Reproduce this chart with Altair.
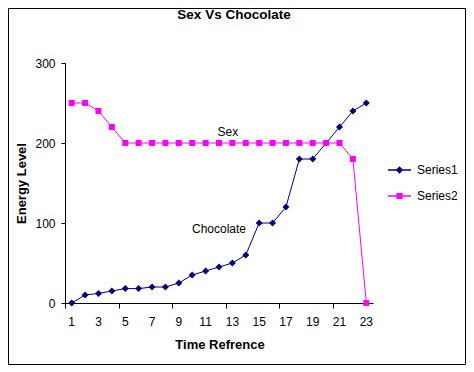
import altair as alt
import pandas as pd

# ---- data ----
time_ref = list(range(1, 24))
series1 = [0, 10, 12, 15, 18, 18, 20, 20, 25, 35, 40, 45, 50, 60, 100, 100, 120, 180, 180, 200, 220, 240, 250]
series2 = [250, 250, 240, 220, 200, 200, 200, 200, 200, 200, 200, 200, 200, 200, 200, 200, 200, 200, 200, 200, 200, 180, 0]
series_names = ["Series1", "Series2"]
series_colors = ["#000080", "#FF00FF"]
y_ticks = [0, 50, 100, 150, 200, 250, 300]
x_tick_bounds = [i + 0.5 for i in range(0, 24)]
x_labels = [1, 3, 5, 7, 9, 11, 13, 15, 17, 19, 21, 23]
annot_text = ["Sex", "Chocolate"]
annot_x = [12.66, 12.0]
annot_y = [214, 92]
chart_title = "Sex Vs Chocolate"

FONT = "Liberation Sans"

df = pd.DataFrame({
    "t": time_ref * 2,
    "v": series1 + series2,
    "s": ["Series1"] * len(time_ref) + ["Series2"] * len(time_ref),
})
ann = pd.DataFrame({"label": annot_text, "x": annot_x, "y": annot_y})
xl = pd.DataFrame({"t": x_labels})
one = pd.DataFrame({"a": [0]})

x_enc = alt.X(
    "t:Q",
    scale=alt.Scale(domain=[0.5, 23.5], nice=False, zero=False),
    axis=alt.Axis(
        values=x_tick_bounds,
        labels=False,
        tickSize=5,
        grid=False,
        title="Time Refrence",
        titleX=154.5,
        titleY=41,
        titleBaseline="middle",
    ),
)
y_enc = alt.Y(
    "v:Q",
    scale=alt.Scale(domain=[0, 300], nice=False),
    axis=alt.Axis(
        values=y_ticks,
        tickSize=4,
        labelPadding=6,
        grid=False,
        title="Energy Level",
        titleX=-44,
        titleY=120,
        titleBaseline="middle",
    ),
)

line1 = alt.Chart(df).transform_filter("datum.s == 'Series1'").mark_line(
    strokeWidth=1, color=series_colors[0]
).encode(x=x_enc, y=y_enc)
line2 = alt.Chart(df).transform_filter("datum.s == 'Series2'").mark_line(
    strokeWidth=1, color=series_colors[1]
).encode(x="t:Q", y="v:Q")

pts1 = alt.Chart(df).transform_filter("datum.s == 'Series1'").mark_point(
    filled=True, opacity=1, shape="diamond", size=49, color=series_colors[0]
).encode(x="t:Q", y="v:Q")

pts2 = alt.Chart(df).transform_filter("datum.s == 'Series2'").mark_point(
    filled=True, opacity=1, shape="square", size=36, color=series_colors[1]
).encode(x="t:Q", y="v:Q")

xlabels = alt.Chart(xl).mark_text(
    font=FONT, fontSize=12, color="black", baseline="middle", align="center"
).encode(x="t:Q", y=alt.value(259), text="t:Q")

leg_paths = [
    "M-1,-0.065H1V0.065H-1Z M0,-0.32L0.32,0L0,0.32L-0.32,0Z",
    "M-1,-0.065H1V0.065H-1Z M-0.27,-0.27H0.27V0.27H-0.27Z",
]
legend_cfg = alt.Legend(
    title=None, orient="none", legendX=323, legendY=95.5,
    symbolSize=529, symbolStrokeWidth=0, symbolOpacity=1, labelOffset=6,
    labelFont=FONT, labelFontSize=12, labelColor="black",
    rowPadding=8, padding=0,
)
# legend-only layer: marks are placed outside the visible canvas
legend_layer = alt.Chart(df).mark_point(filled=True, opacity=1).encode(
    x=alt.value(3000), y=alt.value(3000),
    color=alt.Color("s:N", scale=alt.Scale(domain=series_names, range=series_colors), legend=legend_cfg),
    shape=alt.Shape("s:N", scale=alt.Scale(domain=series_names, range=leg_paths), legend=legend_cfg),
)

annots = alt.Chart(ann).mark_text(font=FONT, fontSize=12, color="black").encode(
    x="x:Q", y="y:Q", text="label:N"
)

title_mark = alt.Chart(one).mark_text(
    font=FONT, fontSize=13.5, fontWeight="bold", color="black", baseline="middle", align="center"
).encode(x=alt.value(169), y=alt.value(-48), text=alt.value(chart_title))

border = alt.Chart(one).mark_rect(fill=None, stroke="black", strokeWidth=1).encode(
    x=alt.value(-56.5), x2=alt.value(400.5), y=alt.value(-54.5), y2=alt.value(301.5)
)

chart = alt.layer(border, title_mark, line1, line2, pts1, pts2, xlabels, legend_layer, annots).properties(
    width=308, height=240,
    autosize=alt.AutoSizeParams(type="none"),
    padding={"left": 57, "top": 55, "right": 93, "bottom": 62},
).configure_view(stroke=None).configure_axis(
    domainColor="black", tickColor="black", labelColor="black", titleColor="black",
    labelFont=FONT, labelFontSize=12, titleFont=FONT, titleFontSize=13, titleFontWeight="bold",
)

chart.save("out.html", embed_options={"renderer": "svg", "actions": False})
